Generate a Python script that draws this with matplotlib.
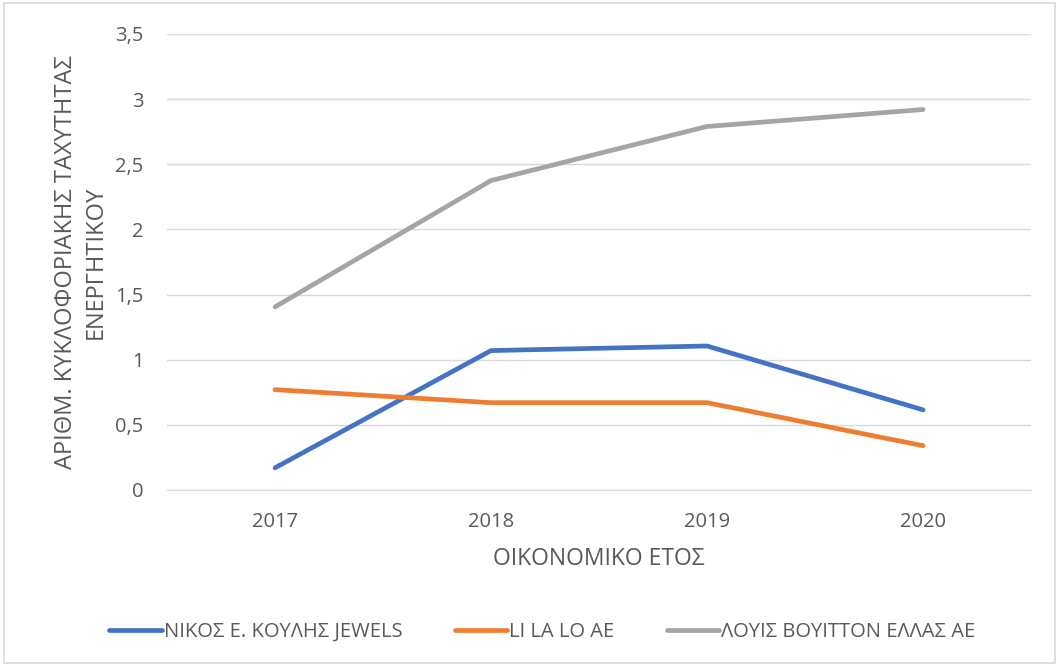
import matplotlib
matplotlib.use("Agg")
import matplotlib.pyplot as plt
from matplotlib.patches import Rectangle

years = ["2017", "2018", "2019", "2020"]
koulis = [0.17, 1.07, 1.105, 0.615]
lilalo = [0.77, 0.67, 0.67, 0.34]
vuitton = [1.405, 2.375, 2.79, 2.92]
series_names = ["ΝΙΚΟΣ Ε. ΚΟΥΛΗΣ JEWELS", "LI LA LO AE", "ΛΟΥΙΣ ΒΟΥΙΤΤΟΝ ΕΛΛΑΣ ΑΕ"]
colors = ["#4472C4", "#ED7D31", "#A5A5A5"]
yticks = [0, 0.5, 1, 1.5, 2, 2.5, 3, 3.5]
ytick_labels = ["0", "0,5", "1", "1,5", "2", "2,5", "3", "3,5"]

plt.rcParams['font.family'] = ['Open Sans', 'DejaVu Sans']
text_color = "#595959"

fig = plt.figure(figsize=(10.59, 6.66), dpi=100)
fig.patches.append(Rectangle((0.004, 0.004), 0.992, 0.992, transform=fig.transFigure,
                             fill=False, edgecolor="#D9D9D9", linewidth=1.2))
ax = fig.add_axes([0.1577, 0.2643, 0.8159, 0.6847])

x = list(range(len(years)))
for vals, name, c in zip([koulis, lilalo, vuitton], series_names, colors):
    ax.plot(x, vals, color=c, linewidth=3.4, solid_capstyle="round", label=name)

ax.set_xlim(-0.5, len(years) - 0.5)
ax.set_ylim(0, 3.5)
ax.set_yticks(yticks)
ax.set_yticklabels(ytick_labels)
ax.set_xticks(x)
ax.set_xticklabels(years)
ax.grid(axis="y", color="#D9D9D9", linewidth=1)
ax.set_axisbelow(True)
for s in ["top", "right", "left"]:
    ax.spines[s].set_visible(False)
ax.spines["bottom"].set_color("#D9D9D9")
ax.tick_params(axis="both", length=0, labelsize=14.5, colors=text_color)
ax.tick_params(axis="y", pad=17)
ax.tick_params(axis="x", pad=16)

ax.set_xlabel("ΟΙΚΟΝΟΜΙΚΟ ΕΤΟΣ", fontsize=16.5, color=text_color, labelpad=11)
ax.set_ylabel("ΑΡΙΘΜ. ΚΥΚΛΟΦΟΡΙΑΚΗΣ ΤΑΧΥΤΗΤΑΣ\nΕΝΕΡΓΗΤΙΚΟΥ", fontsize=17,
              color=text_color, labelpad=5, linespacing=1.35)

leg = fig.legend(loc="center", bbox_to_anchor=(0.512, 0.051), ncol=3, frameon=False,
                 fontsize=14.5, handlelength=2.6, handletextpad=0.1, columnspacing=2.6,
                 labelcolor=text_color)

fig.savefig("out.png", dpi=100)
